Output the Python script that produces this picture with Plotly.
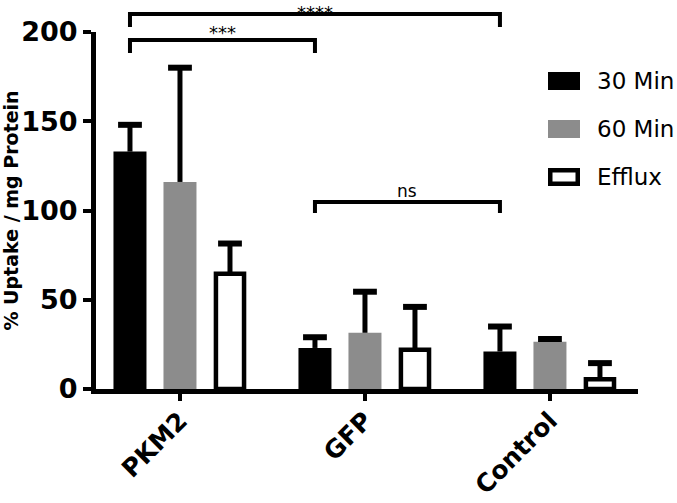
import plotly.graph_objects as go

categories = ["PKM2", "GFP", "Control"]
series_names = ["30 Min", "60 Min", "Efflux"]
uptake_30 = [133, 23, 21]
err_30 = [15, 6, 14]
uptake_60 = [116, 31.5, 26.5]
err_60 = [64, 23, 1.5]
efflux = [64.5, 22, 5.5]
err_efflux = [17, 24, 9]
y_ticks = [0, 50, 100, 150, 200]

FONT = "DejaVu Sans, Liberation Sans, Arial, sans-serif"
W, H = 677, 503
L, R, T, B = 96, 39, 32, 114
PW, PH = W - L - R, H - T - B

xpos = list(range(len(categories)))
BARGAP = 0.189
slot = (1 - BARGAP) / 3

def px2paper_x(px):
    return (px - L) / PW

def px2paper_y(py):
    return (H - B - py) / PH

fig = go.Figure()
styles = [
    dict(color="black", line=dict(width=0)),
    dict(color="#8c8c8c", line=dict(width=0)),
    dict(color="white", line=dict(color="black", width=4.5)),
]
vals = [uptake_30, uptake_60, efflux]
errs = [err_30, err_60, err_efflux]
widths = [None, None, 0.152]
for name, v, st, wd in zip(series_names, vals, styles, widths):
    kw = {}
    if wd is not None:
        kw["width"] = [wd] * len(v)
    fig.add_trace(go.Bar(x=xpos, y=v, name=name, marker=st, showlegend=False, **kw))

# upward-only error bars (stem + cap), placed at each bar's group slot
for i, (name, v, e) in enumerate(zip(series_names, vals, errs)):
    off = (i - 1) * slot
    sx, sy = [], []
    for c, val, er in zip(xpos, v, e):
        sx += [c + off, c + off, None]
        sy += [val, val + er, None]
    fig.add_trace(go.Scatter(x=sx, y=sy, mode="lines", line=dict(color="black", width=5),
                             showlegend=False, hoverinfo="skip", cliponaxis=False))
    fig.add_trace(go.Scatter(x=[c + off for c in xpos], y=[a + b for a, b in zip(v, e)],
                             mode="markers", showlegend=False, hoverinfo="skip",
                             cliponaxis=False,
                             marker=dict(symbol="line-ew", size=17,
                                         line=dict(color="black", width=6))))

shapes = []
annots = []
# significance brackets (between 30 Min bars)
off30 = -slot
brackets = [
    (0, 2, 14, 27, "****", 18, 0.5, "top"),
    (0, 1, 40, 53, "***", 18, 32, "middle"),
    (1, 2, 202, 213, "ns", 17, 191, "middle"),
]
for a, b, ytop, ybot, label, fs, ty, anchor in brackets:
    xa, xb = a + off30, b + off30
    y_t, y_b = px2paper_y(ytop), px2paper_y(ybot)
    shapes.append(dict(type="path", xref="x", yref="paper",
                       path=f"M {xa},{y_b} L {xa},{y_t} L {xb},{y_t} L {xb},{y_b}",
                       line=dict(color="black", width=4)))
    annots.append(dict(x=(xa + xb) / 2, y=px2paper_y(ty), xref="x", yref="paper", text=label,
                       showarrow=False, yanchor=anchor, borderpad=0,
                       font=dict(family=FONT, size=fs, color="black")))

# manual legend
leg_rows = [81, 129, 177]
for name, st, py in zip(series_names, styles, leg_rows):
    lw = st["line"].get("width", 0)
    inset = lw / 2
    shapes.append(dict(type="rect", xref="paper", yref="paper",
                       x0=px2paper_x(548 + inset), x1=px2paper_x(580 - inset),
                       y0=px2paper_y(py + 9 - inset), y1=px2paper_y(py - 9 + inset),
                       fillcolor=st["color"],
                       line=dict(color="black", width=lw) if lw else dict(width=0)))
    annots.append(dict(x=px2paper_x(595), y=px2paper_y(py), xref="paper", yref="paper",
                       text=name, showarrow=False, xanchor="left", yanchor="middle",
                       font=dict(family=FONT, size=23, color="black")))

fig.update_layout(
    width=W, height=H,
    margin=dict(l=L, r=R, t=T, b=B, pad=0),
    paper_bgcolor="white", plot_bgcolor="white",
    barmode="group", bargap=BARGAP, bargroupgap=0.34,
    shapes=shapes, annotations=annots,
    xaxis=dict(range=[-0.454, 2.476], tickvals=xpos, ticktext=categories,
               tickangle=-45, showline=True, linecolor="black", linewidth=5,
               ticks="outside", ticklen=7, tickwidth=4, tickcolor="black",
               ticklabelstandoff=-5,
               showgrid=False, zeroline=False, automargin=False,
               tickfont=dict(family=FONT, size=25, color="black", weight="bold")),
    yaxis=dict(range=[0, 200], tickvals=y_ticks, showline=True, linecolor="black",
               linewidth=5, ticks="outside", ticklen=8, tickwidth=4, tickcolor="black",
               showgrid=False, zeroline=False, automargin=False,
               tickfont=dict(family=FONT, size=27, color="black", weight="bold"),
               title=dict(text="% Uptake / mg Protein", standoff=8,
                          font=dict(family=FONT, size=19, color="black", weight="bold"))),
)

fig.write_html("out.html", config={"displayModeBar": False},
               post_script="document.body.style.margin='0';")
